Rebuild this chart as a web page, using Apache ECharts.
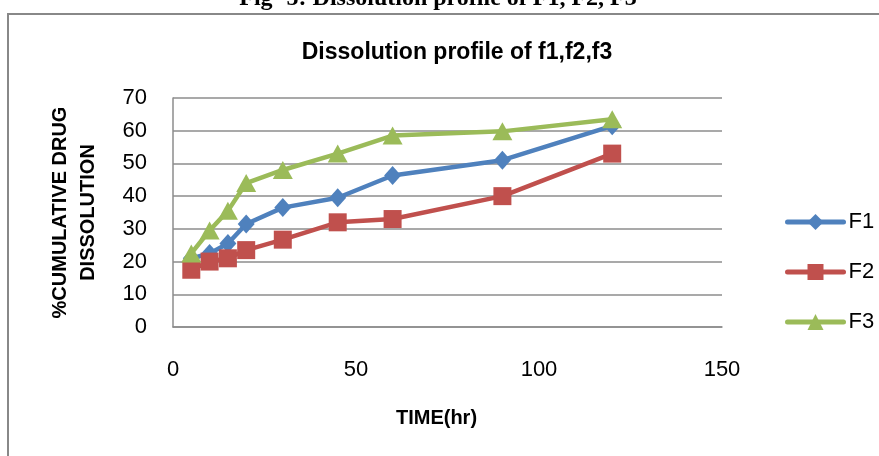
<!DOCTYPE html>
<html>
<head>
<meta charset="utf-8">
<script src="https://cdn.jsdelivr.net/npm/echarts@6/dist/echarts.min.js"></script>
<style>
    html, body { margin: 0; padding: 0; background: #fff; }
    #main { width: 879px; height: 456px; }
</style>
</head>
<body>
<div id="main"></div>
<script>
// time points (hr)
var times = [5, 10, 15, 20, 30, 45, 60, 90, 120];
// % cumulative drug dissolution
var f1 = [21, 22.5, 25.5, 31.5, 36.5, 39.5, 46.3, 51, 61.5];
var f2 = [17.5, 20, 21, 23.5, 26.7, 32, 33, 40, 53];
var f3 = [22.5, 29.5, 35.5, 44, 48, 53, 58.5, 59.8, 63.5];
var seriesNames = ['F1', 'F2', 'F3'];

function pairs(ys) {
    var out = [];
    for (var i = 0; i < times.length; i++) {
        out.push([times[i], ys[i]]);
    }
    return out;
}

var font = 'Liberation Sans, Arial, sans-serif';
var grey = '#8c8c8c';

function start() {
    var myChart = echarts.init(document.getElementById('main'));
    var option = {
        animation: false,
        backgroundColor: '#fff',
        title: {
            text: 'Dissolution profile of f1,f2,f3',
            left: 452,
            top: 36,
            textAlign: 'center',
            textStyle: { fontFamily: font, fontSize: 23, fontWeight: 'bold', color: '#000' }
        },
        graphic: [{
            type: 'rect',
            shape: { x: 8, y: 14, width: 1000, height: 1000 },
            style: { fill: 'none', stroke: '#888', lineWidth: 2 },
            silent: true
        }, {
            type: 'text',
            x: 438,
            y: 11,
            style: {
                text: 'Fig- 5: Dissolution profile of F1, F2, F3',
                font: 'bold 24px "Liberation Serif", "Times New Roman", serif',
                fill: '#000',
                align: 'center',
                verticalAlign: 'bottom'
            }
        }],
        legend: {
            orient: 'vertical',
            left: 780,
            top: 206,
            itemWidth: 56,
            itemHeight: 20,
            itemGap: 28,
            data: seriesNames,
            lineStyle: { width: 5, cap: 'round' },
            textStyle: { fontFamily: font, fontSize: 22, color: '#000', lineHeight: 20 }
        },
        grid: { left: 173, right: 157, top: 98, bottom: 129 },
        xAxis: {
            type: 'value',
            min: 0,
            max: 150,
            interval: 50,
            name: 'TIME(hr)',
            nameLocation: 'middle',
            nameGap: 81,
            nameTextStyle: { fontFamily: font, fontSize: 20, fontWeight: 'bold', color: '#000', padding: [0, 22, 0, 0] },
            axisLine: { show: true, lineStyle: { color: grey, width: 1.5 } },
            axisTick: { show: false },
            splitLine: { show: false },
            axisLabel: { margin: 32, fontFamily: font, fontSize: 22, color: '#000' }
        },
        yAxis: {
            type: 'value',
            min: 0,
            max: 70,
            interval: 10,
            name: '%CUMULATIVE DRUG\nDISSOLUTION',
            nameLocation: 'middle',
            nameRotate: 90,
            nameGap: 71,
            nameTextStyle: { fontFamily: font, fontSize: 20, fontWeight: 'bold', color: '#000', lineHeight: 28 },
            axisLine: { show: true, lineStyle: { color: grey, width: 1.5 } },
            axisTick: { show: false },
            splitLine: { show: true, lineStyle: { color: grey, width: 1.5 } },
            axisLabel: { margin: 26, fontFamily: font, fontSize: 22, color: '#000' }
        },
        series: [{
            name: 'F1',
            type: 'line',
            data: pairs(f1),
            symbol: 'diamond',
            symbolSize: [17, 19],
            color: '#4f81bd',
            lineStyle: { width: 4.5, color: '#4f81bd' }
        }, {
            name: 'F2',
            type: 'line',
            data: pairs(f2),
            symbol: 'rect',
            symbolSize: 18,
            color: '#c0504d',
            lineStyle: { width: 4.5, color: '#c0504d' }
        }, {
            name: 'F3',
            type: 'line',
            data: pairs(f3),
            symbol: 'triangle',
            symbolSize: [20, 18],
            color: '#9bbb59',
            lineStyle: { width: 4.5, color: '#9bbb59' }
        }]
    };
    myChart.setOption(option);
}
start();
</script>
</body>
</html>
